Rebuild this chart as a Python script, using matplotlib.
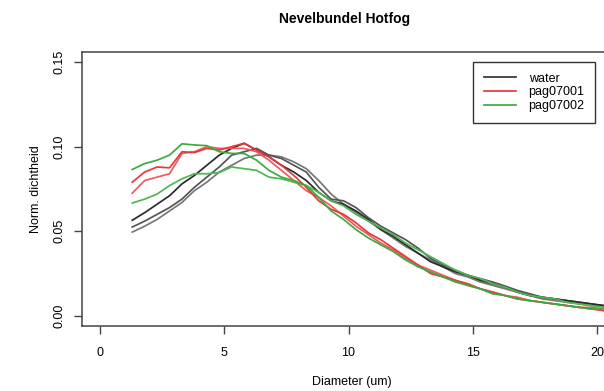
import matplotlib.pyplot as plt

plt.rcParams["font.family"] = ["Liberation Sans", "DejaVu Sans"]

# diameter grid (um), shared by all measured curves
diameter = [1.3, 1.8, 2.3, 2.8, 3.3, 3.8, 4.3, 4.8, 5.3, 5.8,
            6.3, 6.8, 7.3, 7.8, 8.3, 8.8, 9.3, 9.8, 10.3, 10.8,
            11.3, 11.8, 12.3, 12.8, 13.3, 13.8, 14.3, 14.8, 15.3, 15.8,
            16.3, 16.8, 17.3, 17.8, 18.3, 18.8, 19.3, 19.8, 20.3, 20.8, 21.3]

water_1 = [.0565, .061, .066, .071, .078, .083, .089, .095, .099, .102,
           .098, .094, .089, .085, .080, .073, .068, .066, .062, .057,
           .051, .047, .042, .037, .032, .029, .026, .024, .021, .019,
           .017, .014, .012, .011, .010, .009, .008, .007, .006, .005, .005]
water_2 = [.0525, .056, .060, .064, .069, .076, .082, .088, .095, .097,
           .099, .095, .093, .089, .085, .076, .069, .068, .064, .058,
           .053, .049, .045, .040, .034, .030, .027, .024, .022, .020,
           .0176, .015, .013, .011, .010, .009, .008, .007, .006, .005, .005]
water_3 = [.0495, .053, .057, .062, .067, .074, .079, .085, .089, .093,
           .095, .095, .094, .091, .087, .080, .072, .066, .061, .056,
           .051, .046, .041, .037, .033, .029, .025, .023, .020, .018,
           .016, .014, .012, .010, .009, .008, .007, .006, .006, .005, .004]
pag1_a = [.079, .085, .088, .0875, .097, .0965, .099, .098, .100, .102,
          .098, .094, .089, .083, .076, .068, .063, .060, .055, .049,
          .045, .040, .035, .030, .025, .023, .021, .019, .016, .014,
          .012, .010, .009, .008, .007, .006, .005, .004, .003, .003, .003]
pag1_b = [.0725, .080, .082, .084, .096, .097, .100, .099, .099, .099,
          .097, .092, .086, .080, .074, .070, .065, .059, .053, .048,
          .043, .039, .034, .030, .027, .024, .021, .018, .016, .014,
          .012, .011, .009, .008, .007, .006, .005, .005, .004, .004, .003]
pag2_a = [.0865, .090, .092, .095, .1017, .101, .1006, .097, .096, .096,
          .092, .086, .082, .080, .077, .070, .062, .057, .051, .046,
          .042, .038, .033, .029, .026, .023, .020, .018, .016, .013,
          .012, .010, .009, .008, .007, .006, .005, .004, .004, .003, .003]
pag2_b = [.0667, .069, .072, .077, .081, .084, .084, .0847, .088, .087,
          .086, .082, .081, .079, .077, .073, .068, .065, .060, .056,
          .052, .048, .043, .039, .035, .031, .027, .024, .022, .019,
          .017, .014, .012, .011, .010, .008, .007, .006, .005, .005, .004]

legend_labels = ["water", "pag07001", "pag07002"]
x_ticks = [0, 5, 10, 15, 20]
y_ticks = [0.00, 0.05, 0.10, 0.15]

fig = plt.figure(figsize=(6.04, 3.91), dpi=100)
# plot region runs past the right edge, like the cropped original
ax = fig.add_axes([0.1358, 0.1662, 0.894, 0.701])

lw = 1.25
ax.plot(diameter, water_3, color="#777777", lw=lw)
ax.plot(diameter, water_2, color="#555555", lw=lw)
ax.plot(diameter, water_1, color="#2b2b2b", lw=lw)
ax.plot(diameter, pag1_b, color="#f0595e", lw=lw)
ax.plot(diameter, pag1_a, color="#e8383d", lw=lw)
ax.plot(diameter, pag2_b, color="#4cb84f", lw=lw)
ax.plot(diameter, pag2_a, color="#3aac3f", lw=lw)

ax.set_xlim(-0.72, 21)
ax.set_ylim(-0.006, 0.156)
ax.set_xticks(x_ticks)
ax.set_xticklabels([str(t) for t in x_ticks])
ax.set_yticks(y_ticks)
ax.set_yticklabels(["%.2f" % t for t in y_ticks], rotation=90, va="center")
ax.tick_params(direction="out", length=6, width=1, color="#444444",
               labelsize=9)
ax.tick_params(axis="x", pad=9)
ax.tick_params(axis="y", pad=6)
for s in ax.spines.values():
    s.set_color("#444444")
    s.set_linewidth(1.1)

ax.set_xlabel("Diameter (um)", fontsize=9, labelpad=12)
ax.set_ylabel("Norm. dichtheid", fontsize=9, labelpad=8)
fig.text(0.571, 0.952, "Nevelbundel Hotfog", ha="center", va="center",
         fontsize=10, fontweight="bold")

handles = [plt.Line2D([], [], color="#333333", lw=lw),
           plt.Line2D([], [], color="#e8383d", lw=lw),
           plt.Line2D([], [], color="#3aac3f", lw=lw)]
leg = fig.legend(handles, legend_labels, loc="upper left",
                 bbox_to_anchor=(473 / 604, 1 - 62 / 391),
                 fontsize=9, fancybox=False, framealpha=1,
                 edgecolor="#333333", handlelength=2.6, handletextpad=1.0,
                 labelspacing=0.15, borderpad=0.85, borderaxespad=0)
leg.get_frame().set_linewidth(1.0)

fig.savefig("out.png", dpi=100)
